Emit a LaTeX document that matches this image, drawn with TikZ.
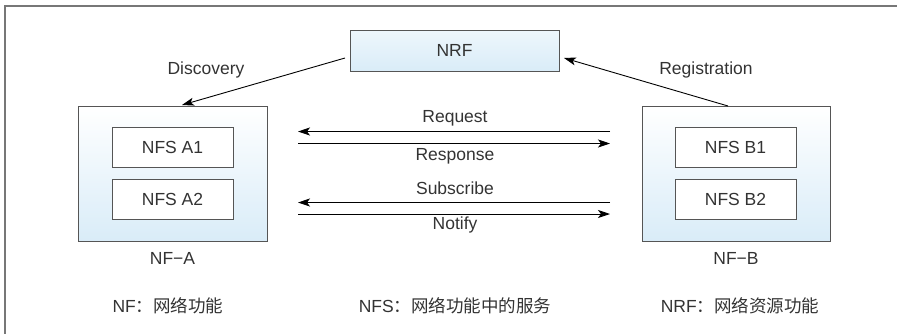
\documentclass[tikz,border=0pt]{standalone}
\usepackage{fontspec}
\setmainfont{Liberation Sans}
\newfontfamily\cjk{Noto Sans CJK SC}
\usetikzlibrary{arrows.meta}
\definecolor{txt}{HTML}{333333}
\definecolor{frame}{HTML}{777777}
\definecolor{boxline}{HTML}{555555}
\definecolor{lblue}{HTML}{D9ECF8}
\begin{document}
\begin{tikzpicture}[x=1pt,y=-1pt,
  every node/.style={text=txt,font=\fontsize{17.5}{20}\selectfont},
  nfbox/.style={draw=boxline,line width=0.9pt,top color=white,bottom color=lblue},
  nrfbox/.style={draw=boxline,line width=0.9pt,top color=lblue!45,bottom color=lblue},
  svc/.style={draw=boxline,line width=0.9pt,fill=white,minimum width=121pt,minimum height=40pt,inner sep=0pt},
  arr/.style={line width=0.9pt,-{Stealth[length=12pt,width=8pt,inset=3pt]}},
  lbl/.style={inner sep=0pt},
  cjkl/.style={inner sep=0pt,font=\fontsize{17.5}{20}\selectfont}]
\useasboundingbox (0,0) rectangle (897,333);
% frame (open at right and bottom)
\draw[frame,line width=1.2pt] (5,340) -- (5,6) -- (905,6);
% NRF
\node[nrfbox,minimum width=209pt,minimum height=41pt,inner sep=0pt] (NRF) at (454.5,50.5) {NRF};
% NF-A
\node[nfbox,minimum width=189pt,minimum height=135pt,inner sep=0pt] (NFA) at (172.5,173.5) {};
\node[svc] (A1) at (172.5,147) {NFS A1};
\node[svc] (A2) at (172.5,199.5) {NFS A2};
\node[lbl] (NFAl) at (172.5,258) {NF−A};
% NF-B
\node[nfbox,minimum width=188pt,minimum height=135pt,inner sep=0pt] (NFB) at (736,173.5) {};
\node[svc] (B1) at (735.5,147) {NFS B1};
\node[svc] (B2) at (735.5,199.5) {NFS B2};
\node[lbl] (NFBl) at (736,258) {NF−B};
% Discovery / Registration
\coordinate (dS) at (345,58);
\coordinate (dE) at (182,105);
\draw[arr] (dS) -- (dE);
\node[lbl] (disc) at (206,70) {Discovery};
\coordinate (rS) at (728,106);
\coordinate (rE) at (564,58);
\draw[arr] (rS) -- (rE);
\node[lbl] (reg) at (706,70) {Registration};
% Request / Response
\coordinate (q1) at (610,131.5);
\coordinate (q2) at (298,131.5);
\coordinate (p1) at (298,143.5);
\coordinate (p2) at (610,143.5);
\draw[arr] (q1) -- (q2);
\draw[arr] (p1) -- (p2);
\node[lbl] (req) at (455,118) {Request};
\node[lbl] (resp) at (455,156) {Response};
% Subscribe / Notify
\coordinate (s1) at (610,202.5);
\coordinate (s2) at (298,202.5);
\coordinate (n1) at (298,214);
\coordinate (n2) at (610,214);
\draw[arr] (s1) -- (s2);
\draw[arr] (n1) -- (n2);
\node[lbl] (sub) at (455,188) {Subscribe};
\node[lbl] (ntf) at (455,225) {Notify};
% legend
\node[cjkl] (lg1) at (168,306) {NF{\cjk ：网络功能}};
\node[cjkl] (lg2) at (455,306) {NFS{\cjk ：网络功能中的服务}};
\node[cjkl] (lg3) at (740,306) {NRF{\cjk ：网络资源功能}};
\end{tikzpicture}
\end{document}
